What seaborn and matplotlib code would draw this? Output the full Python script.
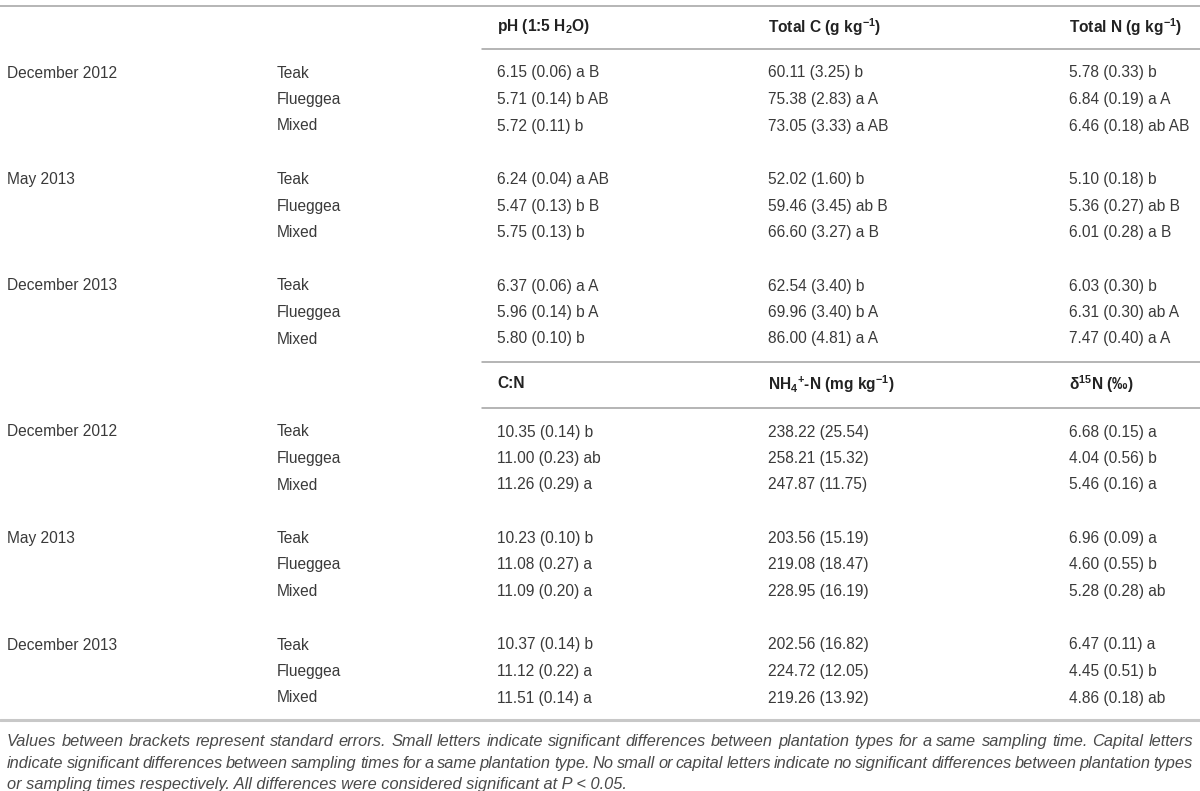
import numpy as np
import matplotlib
matplotlib.use("Agg")
import matplotlib.pyplot as plt
import seaborn as sns

times = ["December 2012", "May 2013", "December 2013"]
plantations = ["Teak", "Flueggea", "Mixed"]

header1 = [r"pH (1:5 H$_2$O)", r"Total C (g kg$^{-1}$)", r"Total N (g kg$^{-1}$)"]
header2 = ["C:N", r"NH$_4$$^{+}$-N (mg kg$^{-1}$)", r"δ$^{15}$N (‰)"]

ph = ["6.15 (0.06) a B", "5.71 (0.14) b AB", "5.72 (0.11) b",
      "6.24 (0.04) a AB", "5.47 (0.13) b B", "5.75 (0.13) b",
      "6.37 (0.06) a A", "5.96 (0.14) b A", "5.80 (0.10) b"]
total_c = ["60.11 (3.25) b", "75.38 (2.83) a A", "73.05 (3.33) a AB",
           "52.02 (1.60) b", "59.46 (3.45) ab B", "66.60 (3.27) a B",
           "62.54 (3.40) b", "69.96 (3.40) b A", "86.00 (4.81) a A"]
total_n = ["5.78 (0.33) b", "6.84 (0.19) a A", "6.46 (0.18) ab AB",
           "5.10 (0.18) b", "5.36 (0.27) ab B", "6.01 (0.28) a B",
           "6.03 (0.30) b", "6.31 (0.30) ab A", "7.47 (0.40) a A"]
cn = ["10.35 (0.14) b", "11.00 (0.23) ab", "11.26 (0.29) a",
      "10.23 (0.10) b", "11.08 (0.27) a", "11.09 (0.20) a",
      "10.37 (0.14) b", "11.12 (0.22) a", "11.51 (0.14) a"]
nh4 = ["238.22 (25.54)", "258.21 (15.32)", "247.87 (11.75)",
       "203.56 (15.19)", "219.08 (18.47)", "228.95 (16.19)",
       "202.56 (16.82)", "224.72 (12.05)", "219.26 (13.92)"]
d15n = ["6.68 (0.15) a", "4.04 (0.56) b", "5.46 (0.16) a",
        "6.96 (0.09) a", "4.60 (0.55) b", "5.28 (0.28) ab",
        "6.47 (0.11) a", "4.45 (0.51) b", "4.86 (0.18) ab"]

caption = [
    "Values between brackets represent standard errors. Small letters indicate significant differences between plantation types for a same sampling time. Capital letters",
    "indicate significant differences between sampling times for a same plantation type. No small or capital letters indicate no significant differences between plantation types",
    "or sampling times respectively. All differences were considered significant at P < 0.05.",
]

sns.set_theme(style="white")
plt.rcParams["font.family"] = ["Liberation Sans", "DejaVu Sans"]
plt.rcParams["mathtext.fontset"] = "custom"
plt.rcParams["mathtext.rm"] = "Liberation Sans:bold"
plt.rcParams["mathtext.it"] = "Liberation Sans:bold"
plt.rcParams["mathtext.bf"] = "Liberation Sans:bold"
plt.rcParams["mathtext.default"] = "rm"

fig = plt.figure(figsize=(12, 7.91), dpi=100)
ax = fig.add_axes([0, 0, 1, 1])
ax.set_xlim(0, 1200)
ax.set_ylim(791, 0)
ax.axis("off")

txt_col = "#3a3a3a"
fs = 11.2
col_x = [7, 277, 497, 768, 1069]
row_step = 26.5
block_step = 106.5

# rules
ax.plot([0, 1200], [6, 6], color="#b0b0b0", lw=1.3)
ax.plot([482, 1200], [49, 49], color="#a0a0a0", lw=1.1)
ax.plot([482, 1200], [362, 362], color="#a0a0a0", lw=1.1)
ax.plot([482, 1200], [408, 408], color="#a0a0a0", lw=1.1)
ax.plot([0, 1200], [720, 720], color="#c8c8c8", lw=2.2)


def draw_block(y_head, y0, headers, cols):
    for x, h in zip(col_x[2:], headers):
        ax.text(x, y_head, h, fontsize=fs, fontweight="bold", color="#222222",
                va="center", ha="left")
    for i, t in enumerate(times):
        yb = y0 + i * block_step
        ax.text(col_x[0], yb, t, fontsize=fs, color=txt_col, va="center")
        for j, p in enumerate(plantations):
            y = yb + j * row_step
            ax.text(col_x[1], y, p, fontsize=fs, color=txt_col, va="center")
            k = i * 3 + j
            for x, c in zip(col_x[2:], cols):
                ax.text(x, y, c[k], fontsize=fs, color=txt_col, va="center")


draw_block(27, 73, header1, [ph, total_c, total_n])
draw_block(384, 432, header2, [cn, nh4, d15n])

# caption: size chosen so the first line fills the width, then justified
cap_col = "#4a4a4a"
renderer = fig.canvas.get_renderer()
probe = ax.text(0, 0, caption[0], fontsize=10, style="italic")
w10 = probe.get_window_extent(renderer).width
probe.remove()
cap_fs = 10 * (1186 - 4) / w10
cap_base = [746, 768, 789]
for li, line in enumerate(caption):
    if li == len(caption) - 1:
        ax.text(7, cap_base[li], line, fontsize=cap_fs, style="italic",
                color=cap_col, va="baseline")
        continue
    words = line.split(" ")
    arts = [ax.text(0, cap_base[li], w, fontsize=cap_fs, style="italic",
                    color=cap_col, va="baseline") for w in words]
    widths = [a.get_window_extent(renderer).width for a in arts]
    gap = (1193 - 7 - sum(widths)) / (len(words) - 1)
    x = 7
    for a, w in zip(arts, widths):
        a.set_x(x)
        x += w + gap

fig.savefig("out.png", dpi=100)
